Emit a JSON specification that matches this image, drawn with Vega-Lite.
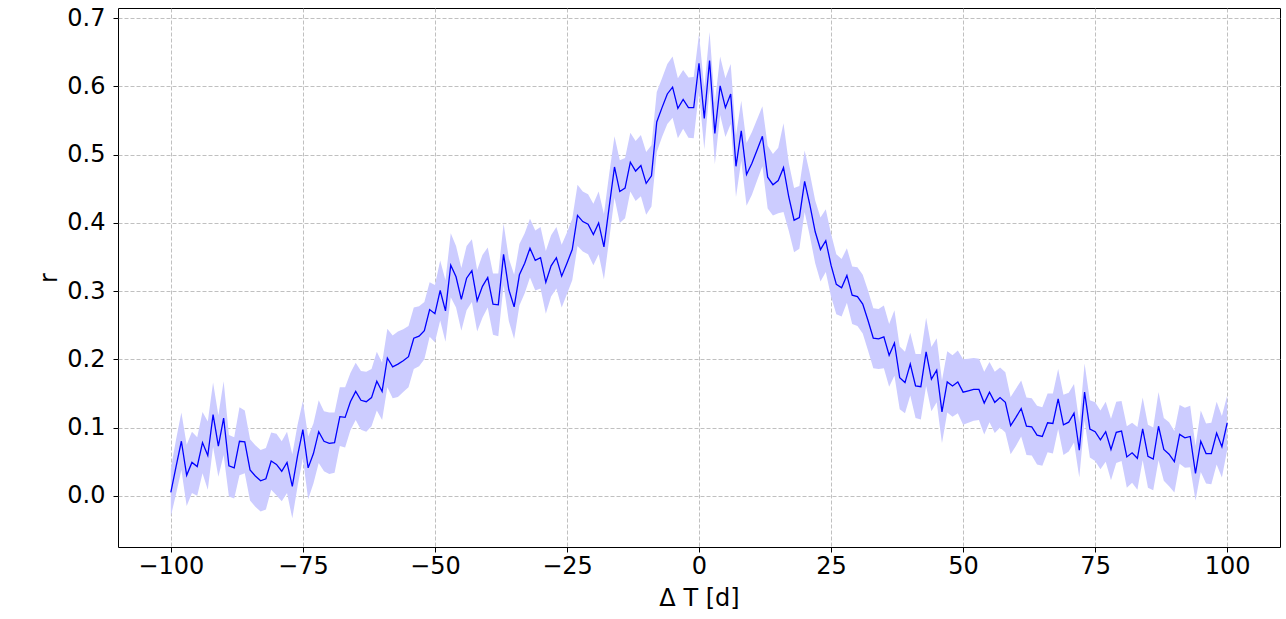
{
  "$schema": "https://vega.github.io/schema/vega-lite/v6.json",
  "width": 1162,
  "height": 539,
  "autosize": {"type": "none"},
  "padding": {"left": 118, "top": 8, "right": 6, "bottom": 72},
  "background": "white",
  "config": {
    "view": {"stroke": "black", "strokeWidth": 1},
    "font": "DejaVu Sans",
    "axis": {
      "domain": false,
      "grid": true,
      "gridColor": "#b0b0b0",
      "gridDash": [4, 2],
      "gridWidth": 0.8,
      "tickColor": "black",
      "tickSize": 5,
      "tickWidth": 1,
      "labelFont": "DejaVu Sans",
      "labelFontSize": 24,
      "labelColor": "black",
      "titleFont": "DejaVu Sans",
      "titleFontSize": 24,
      "titleFontWeight": "normal",
      "titleColor": "black",
      "labelOverlap": false,
      "labelFlush": false
    }
  },
  "data": {"values": [
    {"x": -100, "r": 0.005, "e": 0.035}, {"x": -99, "r": 0.043, "e": 0.040}, {"x": -98, "r": 0.080, "e": 0.042}, {"x": -97, "r": 0.030, "e": 0.045}, {"x": -96, "r": 0.049, "e": 0.045},
    {"x": -95, "r": 0.043, "e": 0.043}, {"x": -94, "r": 0.078, "e": 0.045}, {"x": -93, "r": 0.059, "e": 0.050}, {"x": -92, "r": 0.119, "e": 0.047}, {"x": -91, "r": 0.073, "e": 0.045},
    {"x": -90, "r": 0.114, "e": 0.054}, {"x": -89, "r": 0.044, "e": 0.045}, {"x": -88, "r": 0.041, "e": 0.045}, {"x": -87, "r": 0.080, "e": 0.050}, {"x": -86, "r": 0.079, "e": 0.046},
    {"x": -85, "r": 0.038, "e": 0.045}, {"x": -84, "r": 0.029, "e": 0.045}, {"x": -83, "r": 0.022, "e": 0.045}, {"x": -82, "r": 0.025, "e": 0.045}, {"x": -81, "r": 0.051, "e": 0.042},
    {"x": -80, "r": 0.046, "e": 0.045}, {"x": -79, "r": 0.036, "e": 0.044}, {"x": -78, "r": 0.049, "e": 0.045}, {"x": -77, "r": 0.014, "e": 0.047}, {"x": -76, "r": 0.059, "e": 0.045},
    {"x": -75, "r": 0.097, "e": 0.042}, {"x": -74, "r": 0.041, "e": 0.046}, {"x": -73, "r": 0.062, "e": 0.044}, {"x": -72, "r": 0.094, "e": 0.046}, {"x": -71, "r": 0.080, "e": 0.044},
    {"x": -70, "r": 0.077, "e": 0.045}, {"x": -69, "r": 0.078, "e": 0.044}, {"x": -68, "r": 0.116, "e": 0.043}, {"x": -67, "r": 0.115, "e": 0.044}, {"x": -66, "r": 0.138, "e": 0.042},
    {"x": -65, "r": 0.153, "e": 0.042}, {"x": -64, "r": 0.140, "e": 0.043}, {"x": -63, "r": 0.138, "e": 0.044}, {"x": -62, "r": 0.144, "e": 0.042}, {"x": -61, "r": 0.168, "e": 0.043},
    {"x": -60, "r": 0.153, "e": 0.042}, {"x": -59, "r": 0.202, "e": 0.043}, {"x": -58, "r": 0.189, "e": 0.046}, {"x": -57, "r": 0.193, "e": 0.048}, {"x": -56, "r": 0.198, "e": 0.046},
    {"x": -55, "r": 0.204, "e": 0.045}, {"x": -54, "r": 0.231, "e": 0.045}, {"x": -53, "r": 0.234, "e": 0.044}, {"x": -52, "r": 0.242, "e": 0.042}, {"x": -51, "r": 0.273, "e": 0.040},
    {"x": -50, "r": 0.267, "e": 0.042}, {"x": -49, "r": 0.301, "e": 0.044}, {"x": -48, "r": 0.271, "e": 0.045}, {"x": -47, "r": 0.338, "e": 0.047}, {"x": -46, "r": 0.321, "e": 0.045},
    {"x": -45, "r": 0.288, "e": 0.046}, {"x": -44, "r": 0.319, "e": 0.047}, {"x": -43, "r": 0.330, "e": 0.046}, {"x": -42, "r": 0.286, "e": 0.045}, {"x": -41, "r": 0.307, "e": 0.046},
    {"x": -40, "r": 0.320, "e": 0.044}, {"x": -39, "r": 0.281, "e": 0.045}, {"x": -38, "r": 0.280, "e": 0.046}, {"x": -37, "r": 0.354, "e": 0.045}, {"x": -36, "r": 0.302, "e": 0.046},
    {"x": -35, "r": 0.277, "e": 0.047}, {"x": -34, "r": 0.324, "e": 0.045}, {"x": -33, "r": 0.341, "e": 0.044}, {"x": -32, "r": 0.363, "e": 0.043}, {"x": -31, "r": 0.345, "e": 0.044},
    {"x": -30, "r": 0.349, "e": 0.045}, {"x": -29, "r": 0.313, "e": 0.046}, {"x": -28, "r": 0.337, "e": 0.045}, {"x": -27, "r": 0.349, "e": 0.045}, {"x": -26, "r": 0.322, "e": 0.046},
    {"x": -25, "r": 0.341, "e": 0.045}, {"x": -24, "r": 0.361, "e": 0.045}, {"x": -23, "r": 0.411, "e": 0.045}, {"x": -22, "r": 0.402, "e": 0.044}, {"x": -21, "r": 0.398, "e": 0.044},
    {"x": -20, "r": 0.383, "e": 0.045}, {"x": -19, "r": 0.400, "e": 0.046}, {"x": -18, "r": 0.365, "e": 0.048}, {"x": -17, "r": 0.424, "e": 0.048}, {"x": -16, "r": 0.482, "e": 0.045},
    {"x": -15, "r": 0.446, "e": 0.046}, {"x": -14, "r": 0.451, "e": 0.044}, {"x": -13, "r": 0.489, "e": 0.043}, {"x": -12, "r": 0.476, "e": 0.044}, {"x": -11, "r": 0.484, "e": 0.045},
    {"x": -10, "r": 0.458, "e": 0.046}, {"x": -9, "r": 0.469, "e": 0.045}, {"x": -8, "r": 0.548, "e": 0.044}, {"x": -7, "r": 0.569, "e": 0.043}, {"x": -6, "r": 0.589, "e": 0.044},
    {"x": -5, "r": 0.599, "e": 0.045}, {"x": -4, "r": 0.568, "e": 0.044}, {"x": -3, "r": 0.581, "e": 0.043}, {"x": -2, "r": 0.569, "e": 0.044}, {"x": -1, "r": 0.569, "e": 0.045},
    {"x": 0, "r": 0.634, "e": 0.043}, {"x": 1, "r": 0.553, "e": 0.045}, {"x": 2, "r": 0.638, "e": 0.042}, {"x": 3, "r": 0.531, "e": 0.045}, {"x": 4, "r": 0.601, "e": 0.043},
    {"x": 5, "r": 0.569, "e": 0.043}, {"x": 6, "r": 0.589, "e": 0.044}, {"x": 7, "r": 0.483, "e": 0.045}, {"x": 8, "r": 0.535, "e": 0.044}, {"x": 9, "r": 0.471, "e": 0.046},
    {"x": 10, "r": 0.487, "e": 0.046}, {"x": 11, "r": 0.507, "e": 0.045}, {"x": 12, "r": 0.527, "e": 0.044}, {"x": 13, "r": 0.467, "e": 0.046}, {"x": 14, "r": 0.456, "e": 0.045},
    {"x": 15, "r": 0.462, "e": 0.048}, {"x": 16, "r": 0.481, "e": 0.065}, {"x": 17, "r": 0.438, "e": 0.050}, {"x": 18, "r": 0.404, "e": 0.047}, {"x": 19, "r": 0.408, "e": 0.046},
    {"x": 20, "r": 0.461, "e": 0.045}, {"x": 21, "r": 0.426, "e": 0.046}, {"x": 22, "r": 0.387, "e": 0.046}, {"x": 23, "r": 0.361, "e": 0.047}, {"x": 24, "r": 0.374, "e": 0.046},
    {"x": 25, "r": 0.338, "e": 0.046}, {"x": 26, "r": 0.310, "e": 0.044}, {"x": 27, "r": 0.305, "e": 0.042}, {"x": 28, "r": 0.323, "e": 0.040}, {"x": 29, "r": 0.294, "e": 0.042},
    {"x": 30, "r": 0.292, "e": 0.043}, {"x": 31, "r": 0.281, "e": 0.043}, {"x": 32, "r": 0.257, "e": 0.044}, {"x": 33, "r": 0.231, "e": 0.044}, {"x": 34, "r": 0.230, "e": 0.044},
    {"x": 35, "r": 0.233, "e": 0.046}, {"x": 36, "r": 0.206, "e": 0.046}, {"x": 37, "r": 0.224, "e": 0.048}, {"x": 38, "r": 0.173, "e": 0.046}, {"x": 39, "r": 0.166, "e": 0.045},
    {"x": 40, "r": 0.193, "e": 0.046}, {"x": 41, "r": 0.161, "e": 0.047}, {"x": 42, "r": 0.160, "e": 0.048}, {"x": 43, "r": 0.211, "e": 0.050}, {"x": 44, "r": 0.171, "e": 0.047},
    {"x": 45, "r": 0.184, "e": 0.047}, {"x": 46, "r": 0.123, "e": 0.046}, {"x": 47, "r": 0.167, "e": 0.045}, {"x": 48, "r": 0.161, "e": 0.045}, {"x": 49, "r": 0.167, "e": 0.046},
    {"x": 50, "r": 0.152, "e": 0.048}, {"x": 51, "r": 0.154, "e": 0.047}, {"x": 52, "r": 0.156, "e": 0.046}, {"x": 53, "r": 0.156, "e": 0.045}, {"x": 54, "r": 0.136, "e": 0.046},
    {"x": 55, "r": 0.152, "e": 0.044}, {"x": 56, "r": 0.137, "e": 0.045}, {"x": 57, "r": 0.144, "e": 0.044}, {"x": 58, "r": 0.137, "e": 0.044}, {"x": 59, "r": 0.103, "e": 0.042},
    {"x": 60, "r": 0.115, "e": 0.042}, {"x": 61, "r": 0.128, "e": 0.041}, {"x": 62, "r": 0.102, "e": 0.042}, {"x": 63, "r": 0.101, "e": 0.042}, {"x": 64, "r": 0.089, "e": 0.043},
    {"x": 65, "r": 0.087, "e": 0.043}, {"x": 66, "r": 0.107, "e": 0.043}, {"x": 67, "r": 0.106, "e": 0.044}, {"x": 68, "r": 0.142, "e": 0.044}, {"x": 69, "r": 0.104, "e": 0.044},
    {"x": 70, "r": 0.108, "e": 0.043}, {"x": 71, "r": 0.121, "e": 0.043}, {"x": 72, "r": 0.067, "e": 0.040}, {"x": 73, "r": 0.152, "e": 0.042}, {"x": 74, "r": 0.098, "e": 0.042},
    {"x": 75, "r": 0.094, "e": 0.043}, {"x": 76, "r": 0.082, "e": 0.043}, {"x": 77, "r": 0.094, "e": 0.044}, {"x": 78, "r": 0.068, "e": 0.045}, {"x": 79, "r": 0.093, "e": 0.045},
    {"x": 80, "r": 0.095, "e": 0.044}, {"x": 81, "r": 0.057, "e": 0.045}, {"x": 82, "r": 0.063, "e": 0.044}, {"x": 83, "r": 0.055, "e": 0.046}, {"x": 84, "r": 0.098, "e": 0.046},
    {"x": 85, "r": 0.058, "e": 0.046}, {"x": 86, "r": 0.054, "e": 0.046}, {"x": 87, "r": 0.102, "e": 0.050}, {"x": 88, "r": 0.068, "e": 0.046}, {"x": 89, "r": 0.061, "e": 0.047},
    {"x": 90, "r": 0.050, "e": 0.045}, {"x": 91, "r": 0.090, "e": 0.043}, {"x": 92, "r": 0.085, "e": 0.044}, {"x": 93, "r": 0.087, "e": 0.045}, {"x": 94, "r": 0.033, "e": 0.040},
    {"x": 95, "r": 0.080, "e": 0.045}, {"x": 96, "r": 0.062, "e": 0.044}, {"x": 97, "r": 0.062, "e": 0.045}, {"x": 98, "r": 0.092, "e": 0.046}, {"x": 99, "r": 0.072, "e": 0.045},
    {"x": 100, "r": 0.107, "e": 0.040}
  ]},
  "layer": [
    {
      "mark": {"type": "errorband", "color": "#ccccff", "band": {"opacity": 1}},
      "encoding": {
        "x": {"field": "x", "type": "quantitative", "scale": {"domain": [-110, 110], "nice": false},
              "axis": {"values": [-100, -75, -50, -25, 0, 25, 50, 75, 100], "labelExpr": "replace(datum.label, '-', '−')", "labelPadding": 2, "titlePadding": 8, "title": "Δ T [d]"}},
        "y": {"field": "r", "type": "quantitative", "scale": {"domain": [-0.075, 0.715], "nice": false, "zero": false},
              "axis": {"values": [0, 0.1, 0.2, 0.3, 0.4, 0.5, 0.6, 0.7], "format": ".1f", "labelPadding": 8, "titlePadding": 5, "title": "r"}},
        "yError": {"field": "e"}
      }
    },
    {
      "mark": {"type": "line", "color": "blue", "strokeWidth": 1.3},
      "encoding": {
        "x": {"field": "x", "type": "quantitative"},
        "y": {"field": "r", "type": "quantitative"}
      }
    }
  ]
}
